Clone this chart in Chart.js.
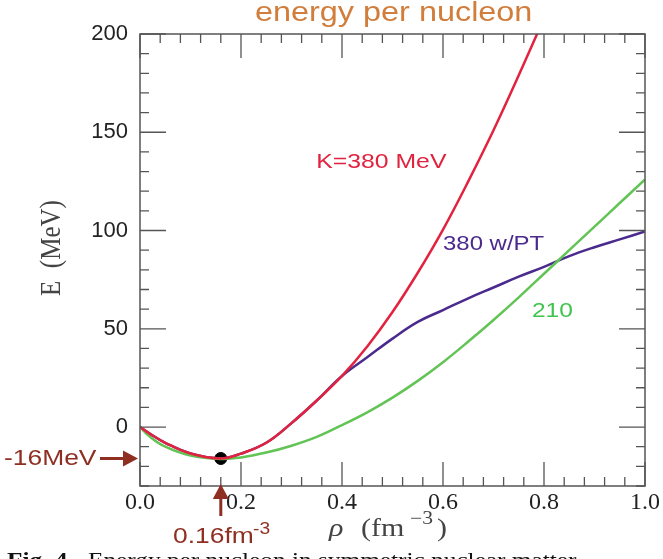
<!DOCTYPE html>
<html>
<head>
<meta charset="utf-8">
<script src="https://cdn.jsdelivr.net/npm/chart.js@4"></script>
<style>
  html, body { margin: 0; padding: 0; background: #fff; }
  #wrap { width: 663px; height: 559px; }
</style>
</head>
<body>
<div id="wrap"><canvas id="energyChart" width="663" height="559"></canvas></div>
<script>
// density grid (fm^-3) and energies per nucleon (MeV)
const rho = [0, 0.02, 0.05, 0.1, 0.16, 0.2, 0.25, 0.3, 0.35, 0.4, 0.45, 0.5, 0.55,
  0.6, 0.65, 0.7, 0.75, 0.8, 0.85, 0.9, 0.95, 1.0];
const eK380 = [0, -3.5, -8, -13.5, -16, -13.5, -8, 2, 13.5, 26, 41, 58.5, 78.5,
  100.5, 125, 151, 179, 208, null, null, null, null];
const eK380PT = [0, -3.5, -8, -13.5, -16, -13.5, -8, 2, 13.5, 26, 35.5, 45, 53.5,
  59.5, 65.5, 71, 76.5, 81.5, 87, 91.5, 95.5, 99.5];
const eK210 = [0, -5, -10, -14.5, -16.2, -15.5, -13, -9.5, -5, 1, 7.5, 15, 23.5,
  33, 43.5, 54.5, 66, 78, 90, 102, 114, 126];
const satRho = [0.16];
const satE = [-16];

const xTicks = [0, 0.2, 0.4, 0.6, 0.8, 1.0];
const yTicks = [0, 50, 100, 150, 200];

const pts = (xs, ys) => xs.map((x, i) => ({ x: x, y: ys[i] })).filter(p => p.y !== null);

const brown = '#8e2f22';
const serif = '"Liberation Serif", "DejaVu Serif", serif';
const sans = '"Liberation Sans", Arial, sans-serif';

// the source picture is a little stretched sideways, so text is too
function wideText(c, str, x, y, sx) {
  c.save();
  c.translate(x, y);
  c.scale(sx, 1);
  c.fillText(str, 0, 0);
  c.restore();
}

/*
|--------------------------------------------------------------------------
| frame, inside ticks and the hand-placed labels
|--------------------------------------------------------------------------
 */
const decor = {
  id: 'decor',
  afterDraw(chart) {
    const c = chart.ctx;
    const xs = chart.scales.x, ys = chart.scales.y;
    const L = xs.left, R = xs.right, T = ys.top, B = ys.bottom;
    c.save();

    // frame
    c.strokeStyle = '#555';
    c.lineWidth = 1.5;
    c.strokeRect(L, T, R - L, B - T);

    // ticks
    c.lineWidth = 1.3;
    c.beginPath();
    for (let i = 0; i <= 25; i++) {
      const px = xs.getPixelForValue(i * 0.04);
      const len = (i % 5 === 0) ? 24 : 9;
      c.moveTo(px, B); c.lineTo(px, B - len);
      c.moveTo(px, T); c.lineTo(px, T + len);
    }
    for (let v = -30; v <= 200; v += 10) {
      const py = ys.getPixelForValue(v);
      const len = (v % 50 === 0) ? 26 : 9;
      c.moveTo(L, py); c.lineTo(L + len, py);
      c.moveTo(R, py); c.lineTo(R - len, py);
    }
    c.stroke();

    c.textAlign = 'left';
    c.textBaseline = 'alphabetic';

    // title, cut by the top edge
    c.fillStyle = '#d17d3c';
    c.font = '27px ' + sans;
    wideText(c, 'energy per nucleon', 255, 21, 1.2);

    // curve labels
    c.textBaseline = 'middle';
    c.font = '21px ' + sans;
    c.fillStyle = '#e2233f';
    wideText(c, 'K=380 MeV', xs.getPixelForValue(0.349), ys.getPixelForValue(135), 1.18);
    c.fillStyle = '#4b2a8e';
    wideText(c, '380 w/PT', xs.getPixelForValue(0.6), ys.getPixelForValue(93), 1.14);
    c.fillStyle = '#3fc44e';
    wideText(c, '210', xs.getPixelForValue(0.776), ys.getPixelForValue(59), 1.17);

    // axis titles
    c.fillStyle = '#444';
    c.font = '25px ' + serif;
    c.save();
    c.translate(52, 248);
    c.rotate(-Math.PI / 2);
    c.scale(1, 1.15);
    c.textAlign = 'center';
    c.fillText('E  (MeV)', 0, 0);
    c.restore();
    c.textBaseline = 'alphabetic';
    c.font = 'italic 25px ' + serif;
    wideText(c, '\u03C1', 329, 536, 1.2);
    c.font = '25px ' + serif;
    wideText(c, '(fm', 361, 536, 1.2);
    c.font = '18px ' + serif;
    wideText(c, '\u22123', 410, 524, 1.2);
    c.font = '25px ' + serif;
    wideText(c, ')', 437, 536, 1.2);

    // -16 MeV marker
    const py = ys.getPixelForValue(satE[0]);
    c.fillStyle = brown;
    c.strokeStyle = brown;
    c.font = '22px ' + sans;
    c.textBaseline = 'middle';
    wideText(c, '-16MeV', 4, py, 1.2);
    c.lineWidth = 3;
    c.beginPath(); c.moveTo(100, py); c.lineTo(L - 10, py); c.stroke();
    c.beginPath();
    c.moveTo(L - 2, py); c.lineTo(L - 17, py - 8); c.lineTo(L - 17, py + 8); c.closePath(); c.fill();

    // 0.16 fm^-3 marker
    const px = xs.getPixelForValue(satRho[0]);
    c.beginPath(); c.moveTo(px, 516); c.lineTo(px, B + 8); c.stroke();
    c.beginPath();
    c.moveTo(px, B - 2); c.lineTo(px - 8, B + 13); c.lineTo(px + 8, B + 13); c.closePath(); c.fill();
    c.textBaseline = 'alphabetic';
    c.font = '22px ' + sans;
    wideText(c, '0.16fm', 173, 543, 1.2);
    c.font = '16px ' + sans;
    wideText(c, '-3', 253, 534, 1.2);

    // caption, cut by the bottom edge
    c.fillStyle = '#111';
    c.font = 'bold 22px ' + serif;
    wideText(c, 'Fig. 4.', 7, 567, 1.15);
    c.font = '22px ' + serif;
    wideText(c, 'Energy per nucleon in symmetric nuclear matter', 88, 567, 1.15);

    c.restore();
  }
};

new Chart(document.getElementById('energyChart'), {
  type: 'line',
  data: {
    datasets: [{
      label: 'K=380 MeV',
      data: pts(rho, eK380),
      borderColor: '#e2233f',
      borderWidth: 2.5,
      pointRadius: 0,
      tension: 0.4
    }, {
      label: '210',
      data: pts(rho, eK210),
      borderColor: '#62c455',
      borderWidth: 2.5,
      pointRadius: 0,
      tension: 0.4
    }, {
      label: '380 w/PT',
      data: pts(rho, eK380PT),
      borderColor: '#4b2a8e',
      borderWidth: 2.5,
      pointRadius: 0,
      tension: 0.4
    }, {
      label: 'saturation',
      data: pts(satRho, satE),
      showLine: false,
      pointRadius: 6,
      pointBackgroundColor: '#000',
      pointBorderColor: '#000',
      clip: false
    }]
  },
  options: {
    responsive: false,
    animation: false,
    layout: { padding: { top: 34, right: 18, left: 0, bottom: 0 } },
    plugins: { legend: { display: false }, tooltip: { enabled: false } },
    scales: {
      x: {
        type: 'linear',
        min: 0,
        max: 1,
        afterBuildTicks: s => { s.ticks = xTicks.map(v => ({ value: v })); },
        afterFit: s => { s.height = 73; },
        grid: { display: false, drawTicks: false },
        border: { display: false },
        ticks: {
          color: '#222',
          padding: 2,
          maxRotation: 0,
          font: { family: serif, size: 24 },
          callback: v => v.toFixed(1)
        }
      },
      y: {
        min: -30,
        max: 200,
        afterBuildTicks: s => { s.ticks = yTicks.map(v => ({ value: v })); },
        afterFit: s => { s.width = 140; },
        grid: { display: false, drawTicks: false },
        border: { display: false },
        ticks: {
          color: '#222',
          padding: 12,
          font: { family: sans, size: 22 }
        }
      }
    }
  },
  plugins: [decor]
});
</script>
</body>
</html>
